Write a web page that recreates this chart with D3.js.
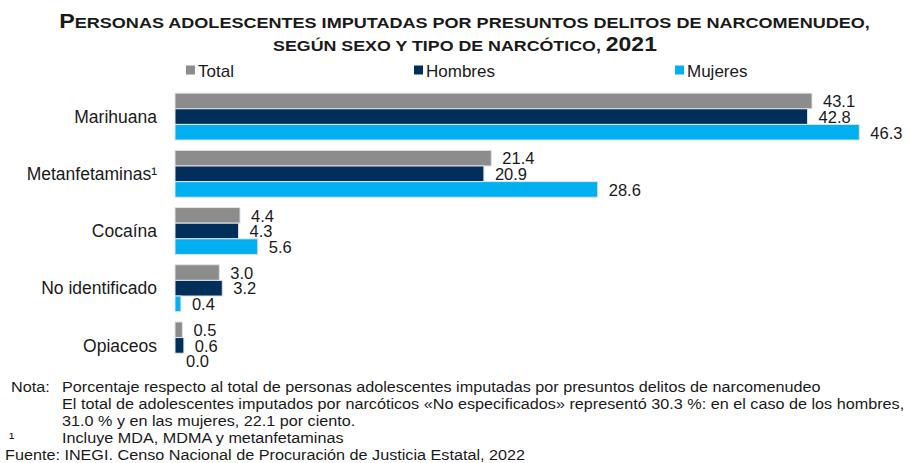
<!DOCTYPE html>
<html>
<head>
<meta charset="utf-8">
<script src="https://cdn.jsdelivr.net/npm/d3@7"></script>
<style>
  body { margin: 0; background: #fff; }
  svg { font-family: "Liberation Sans", Arial, sans-serif; }
</style>
</head>
<body>
<svg id="chart" width="909" height="463"></svg>
<script>
/**
 * Data.
 */
const categories = ['Marihuana', 'Metanfetaminas¹', 'Cocaína', 'No identificado', 'Opiaceos'];
const seriesNames = ['Total', 'Hombres', 'Mujeres'];
const totalValues = [43.1, 21.4, 4.4, 3.0, 0.5];
const hombresValues = [42.8, 20.9, 4.3, 3.2, 0.6];
const mujeresValues = [46.3, 28.6, 5.6, 0.4, 0.0];
const notes = [
    'Porcentaje respecto al total de personas adolescentes imputadas por presuntos delitos de narcomenudeo',
    'El total de adolescentes imputados por narcóticos «No especificados» representó 30.3 %: en el caso de los hombres,',
    '31.0 % y en las mujeres, 22.1 por ciento.'
];
const footnote = 'Incluye MDA, MDMA y metanfetaminas';
const source = 'Fuente: INEGI. Censo Nacional de Procuración de Justicia Estatal, 2022';

/**
 * Visual configs.
 */
const colors = ['#8c8c8c', '#002f5c', '#00b0f0'];
const textColor = '#1a1a1a';
const svg = d3.select('#chart');

const series = seriesNames.map((name, i) => ({
    name: name,
    color: colors[i],
    values: [totalValues, hombresValues, mujeresValues][i]
}));

/**
 * Scales.
 */
const xScale = d3.scaleLinear().domain([0, 50]).range([175, 175 + 14.78 * 50]);
const yScale = d3.scaleBand().domain(categories).range([88, 374])
    .paddingInner(0.18).paddingOuter(0.09);
const ySub = d3.scaleBand().domain(seriesNames).range([0, yScale.bandwidth()]);

// Stretches a text horizontally so that it spans the given width
function fitWidth(sel, x, y, target) {
    const w = sel.node().getComputedTextLength();
    sel.attr('transform', 'translate(' + x + ',' + y + ') scale(' + (target / w) + ',1)');
}

/**
 * Title (small caps).
 */
const t1 = svg.append('text').attr('text-anchor', 'middle')
    .style('font-weight', 'bold').style('fill', textColor);
t1.append('tspan').style('font-size', '20px').text('P');
t1.append('tspan').style('font-size', '15.5px').text('ERSONAS ADOLESCENTES IMPUTADAS POR PRESUNTOS DELITOS DE NARCOMENUDEO,');
fitWidth(t1, 464.5, 28, 811);

const t2 = svg.append('text').attr('text-anchor', 'middle')
    .style('font-weight', 'bold').style('fill', textColor);
t2.append('tspan').style('font-size', '15.5px').text('SEGÚN SEXO Y TIPO DE NARCÓTICO, ');
t2.append('tspan').style('font-size', '20px').text('2021');
fitWidth(t2, 465, 50.5, 384);

/**
 * Legend.
 */
const legendX = [186, 414, 675];
const legend = svg.append('g').selectAll('g').data(series).join('g')
    .attr('transform', (d, i) => 'translate(' + legendX[i] + ',76.5)');
legend.append('rect')
    .attr('x', 0).attr('y', -11).attr('width', 9).attr('height', 9)
    .style('fill', d => d.color);
legend.append('text')
    .attr('x', 12).attr('y', 0)
    .style('font-size', '17px').style('fill', textColor)
    .text(d => d.name);

/**
 * Category labels.
 */
svg.append('g').selectAll('text').data(categories).join('text')
    .attr('x', 157)
    .attr('y', d => yScale(d) + yScale.bandwidth() / 2)
    .attr('dy', '0.35em')
    .attr('text-anchor', 'end')
    .style('font-size', '17.5px').style('fill', textColor)
    .text(d => d);

/**
 * Bars and value labels.
 */
const rows = d => d.values.map((v, i) => ({ name: d.name, cat: categories[i], value: v }));

svg.append('g').selectAll('g').data(series).join('g')
    .style('fill', d => d.color)
    .selectAll('rect').data(rows).join('rect')
    .attr('x', xScale(0))
    .attr('y', d => yScale(d.cat) + ySub(d.name))
    .attr('width', d => xScale(d.value) - xScale(0))
    .attr('height', ySub.bandwidth())
    .style('stroke', '#e4e4e4').style('stroke-width', 1);

svg.append('g').selectAll('g').data(series).join('g')
    .selectAll('text').data(rows).join('text')
    .attr('x', d => xScale(d.value) + 11)
    .attr('y', d => yScale(d.cat) + ySub(d.name) + ySub.bandwidth() / 2)
    .attr('dy', '0.38em')
    .style('font-size', '16.5px').style('fill', textColor)
    .text(d => d3.format('.1f')(d.value));

/**
 * Notes, stretched like the source image.
 */
const noteSize = '14.5px';
const probe = svg.append('text').style('font-size', noteSize).text(notes[1]);
const sx = 843 / probe.node().getComputedTextLength();
probe.remove();

function note(x, y, s) {
    svg.append('text')
        .attr('transform', 'translate(' + x + ',' + y + ') scale(' + sx + ',1)')
        .style('font-size', noteSize).style('fill', textColor)
        .text(s);
}
note(11, 392, 'Nota:');
notes.forEach((s, i) => note(62, 392 + i * 17, s));
note(9, 443, '¹');
note(62, 443, footnote);
note(5, 460, source);
</script>
</body>
</html>
